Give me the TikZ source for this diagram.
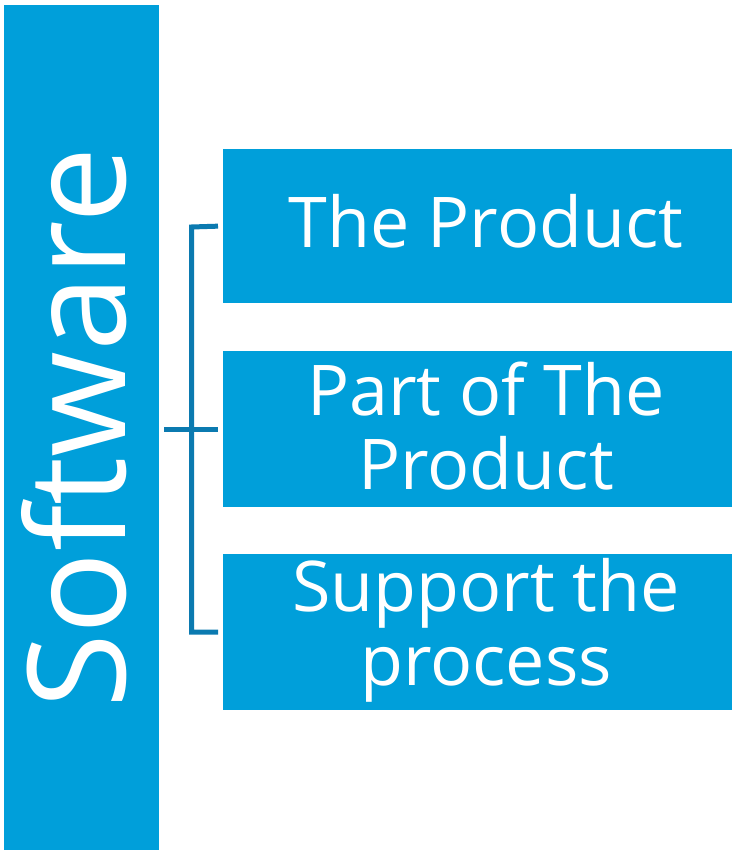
\documentclass[tikz,border=0pt]{standalone}
\usepackage{fontspec}
\setmainfont{Open Sans}
\definecolor{boxblue}{RGB}{0,159,218}
\definecolor{linkblue}{RGB}{11,122,176}
\begin{document}
\begin{tikzpicture}[x=1pt,y=-1pt,
  blk/.style={fill=boxblue, draw=none, inner sep=0pt, outer sep=0pt},
  lbl/.style={text=white, font=\fontsize{70}{74}\selectfont, align=center, inner sep=0pt},
  link/.style={draw=linkblue, line width=5pt}]
\useasboundingbox (0,0) rectangle (732,850);
\node[blk, anchor=north west, minimum width=155pt, minimum height=845pt] (sw) at (4,5) {};
\node[blk, anchor=north west, minimum width=509pt, minimum height=154pt] (b1) at (223,149) {};
\node[blk, anchor=north west, minimum width=509pt, minimum height=156pt] (b2) at (223,351) {};
\node[blk, anchor=north west, minimum width=509pt, minimum height=156pt] (b3) at (223,554) {};
\node[text=white, font=\fontsize{136}{136}\selectfont, rotate=90, anchor=base, inner sep=0pt] (swt) at (125,428) {Software};
\node[lbl] (t1) at (486,221) {The Product};
\node[lbl] (t2) at (486,426) {Part of The\\Product};
\node[lbl] (t3) at (486,630) {Support the\\process};
\draw[link, shorten <=5pt, shorten >=5pt] (sw.east |- b2.west) -- (b2.west);
\draw[link, shorten <=5pt, shorten >=5pt] (b1.west) -- (191.5,227) -- (191.5,632) -- (b3.west);
\end{tikzpicture}
\end{document}
